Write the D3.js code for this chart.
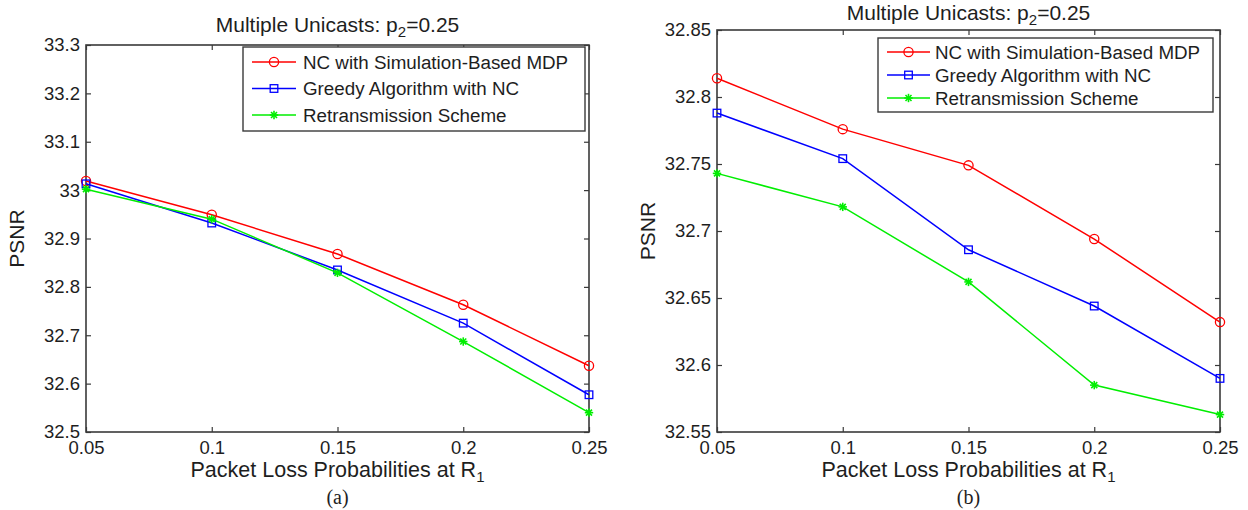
<!DOCTYPE html>
<html>
<head>
<meta charset="utf-8">
<script src="https://cdn.jsdelivr.net/npm/d3@7"></script>
<style>
  body { margin: 0; background: #fff; }
  svg text { font-family: "Liberation Sans", Arial, Helvetica, sans-serif; fill: #1e1e1e; }
</style>
</head>
<body>
<svg id="chart" width="1248" height="510"></svg>
<script>
// packet loss probabilities at R1 (shared x values)
var lossProbs = [0.05, 0.1, 0.15, 0.2, 0.25];

// panel (a)
var mdpA     = [33.019, 32.949, 32.868, 32.763, 32.637];
var greedyA  = [33.013, 32.932, 32.835, 32.725, 32.577];
var retransA = [33.002, 32.940, 32.829, 32.687, 32.540];
var yTicksA  = [32.5, 32.6, 32.7, 32.8, 32.9, 33, 33.1, 33.2, 33.3];

// panel (b)
var mdpB     = [32.814, 32.776, 32.749, 32.694, 32.632];
var greedyB  = [32.788, 32.754, 32.686, 32.644, 32.590];
var retransB = [32.743, 32.718, 32.662, 32.585, 32.563];
var yTicksB  = [32.55, 32.6, 32.65, 32.7, 32.75, 32.8, 32.85];

var seriesNames = ["NC with Simulation-Based MDP", "Greedy Algorithm with NC", "Retransmission Scheme"];
var seriesColors = ["#ff0000", "#0000ff", "#00ee00"];
var seriesMarkers = ["circle", "square", "star"];

var AXIS_COLOR = "#3a3a3a";
var TICK = 5;

var svg = d3.select("#chart");

function drawMarker(g, type, x, y, color) {
  if (type == "circle") {
    g.append("circle").attr("cx", x).attr("cy", y).attr("r", 4.6)
      .attr("fill", "none").attr("stroke", color).attr("stroke-width", 1.3);
  } else if (type == "square") {
    g.append("rect").attr("x", x - 3.8).attr("y", y - 3.8).attr("width", 7.6).attr("height", 7.6)
      .attr("fill", "none").attr("stroke", color).attr("stroke-width", 1.3);
  } else {
    // asterisk: plus + cross
    var r = 4.2, d = 3.0;
    [[0, -r, 0, r], [-r, 0, r, 0], [-d, -d, d, d], [-d, d, d, -d]].forEach(function (s) {
      g.append("line").attr("x1", x + s[0]).attr("y1", y + s[1]).attr("x2", x + s[2]).attr("y2", y + s[3])
        .attr("stroke", color).attr("stroke-width", 1.6);
    });
  }
}

function draw_panel(p) {
  var x = d3.scaleLinear().domain([0.05, 0.25]).range([p.left, p.right]);
  var y = d3.scaleLinear().domain([p.yTicks[0], p.yTicks[p.yTicks.length - 1]]).range([p.bottom, p.top]);
  var g = svg.append("g");
  var fmt = function (d) { return String(+d.toFixed(2)); };

  // axes, MATLAB style: ticks pointing in on all four sides
  var ax = [
    [d3.axisBottom(x).tickValues(lossProbs).tickFormat(fmt).tickPadding(9), "translate(0," + p.bottom + ")"],
    [d3.axisTop(x).tickValues(lossProbs).tickFormat(""), "translate(0," + p.top + ")"],
    [d3.axisLeft(y).tickValues(p.yTicks).tickFormat(fmt).tickPadding(6), "translate(" + p.left + ",0)"],
    [d3.axisRight(y).tickValues(p.yTicks).tickFormat(""), "translate(" + p.right + ",0)"]
  ];
  ax.forEach(function (a) {
    var sel = g.append("g").attr("transform", a[1])
      .call(a[0].tickSizeInner(-TICK).tickSizeOuter(0));
    sel.select(".domain").remove();
    sel.selectAll("line").attr("stroke", AXIS_COLOR).attr("stroke-width", 1.2);
    sel.selectAll("text").style("font-size", "18.5px").attr("fill", "#1e1e1e")
      .style("font-family", "'Liberation Sans', Arial, sans-serif");
  });

  g.append("rect").attr("x", p.left).attr("y", p.top)
    .attr("width", p.right - p.left).attr("height", p.bottom - p.top)
    .attr("fill", "none").attr("stroke", AXIS_COLOR).attr("stroke-width", 1.6);

  // lines + markers
  var line = d3.line().x(function (d, i) { return x(lossProbs[i]); }).y(function (d) { return y(d); });
  p.series.forEach(function (vals, k) {
    g.append("path").datum(vals).attr("d", line)
      .attr("fill", "none").attr("stroke", seriesColors[k]).attr("stroke-width", 1.5);
    vals.forEach(function (v, i) {
      drawMarker(g, seriesMarkers[k], x(lossProbs[i]), y(v), seriesColors[k]);
    });
  });

  // legend
  var L = p.legend;
  var lg = g.append("g").attr("transform", "translate(" + L.x + "," + L.y + ")");
  lg.append("rect").attr("width", L.w).attr("height", L.h)
    .attr("fill", "#fff").attr("stroke", AXIS_COLOR).attr("stroke-width", 1.4);
  seriesNames.forEach(function (name, k) {
    var ry = L.row0 + k * L.step;
    lg.append("line").attr("x1", L.l0).attr("x2", L.l1).attr("y1", ry).attr("y2", ry)
      .attr("stroke", seriesColors[k]).attr("stroke-width", 1.5);
    drawMarker(lg, seriesMarkers[k], (L.l0 + L.l1) / 2, ry, seriesColors[k]);
    lg.append("text").attr("x", L.tx).attr("y", ry).attr("dy", "0.35em")
      .style("font-size", "18.8px").text(name);
  });

  var cx = (p.left + p.right) / 2;

  // title with subscript
  var t = g.append("text").attr("x", cx).attr("y", p.titleY).attr("text-anchor", "middle")
    .style("font-size", "21px");
  t.append("tspan").text("Multiple Unicasts: p");
  t.append("tspan").attr("dy", 5).style("font-size", "15px").text("2");
  t.append("tspan").attr("dy", -5).text("=0.25");

  // y label
  g.append("text").attr("transform", "translate(" + p.yLabelX + "," + ((p.top + p.bottom) / 2) + ") rotate(-90)")
    .attr("text-anchor", "middle").style("font-size", "21px").text("PSNR");

  // x label with subscript
  var xl = g.append("text").attr("x", cx).attr("y", 477).attr("text-anchor", "middle")
    .style("font-size", "21.5px");
  xl.append("tspan").text("Packet Loss Probabilities at R");
  xl.append("tspan").attr("dy", 5).style("font-size", "15px").text("1");

  g.append("text").attr("x", cx).attr("y", 504).attr("text-anchor", "middle")
    .style("font-family", "'Liberation Serif', 'Times New Roman', serif").style("font-size", "20px")
    .text(p.caption);
}

draw_panel({
  left: 86, right: 589, top: 45, bottom: 432,
  yTicks: yTicksA, series: [mdpA, greedyA, retransA],
  legend: { x: 243, y: 47, w: 342, h: 84, row0: 15, step: 26.5, l0: 9, l1: 53, tx: 60 },
  titleY: 32, yLabelX: 24, caption: "(a)"
});

draw_panel({
  left: 717, right: 1220, top: 30, bottom: 432,
  yTicks: yTicksB, series: [mdpB, greedyB, retransB],
  legend: { x: 878, y: 38, w: 335, h: 74, row0: 14, step: 23, l0: 9, l1: 52, tx: 57 },
  titleY: 20, yLabelX: 655, caption: "(b)"
});
</script>
</body>
</html>
